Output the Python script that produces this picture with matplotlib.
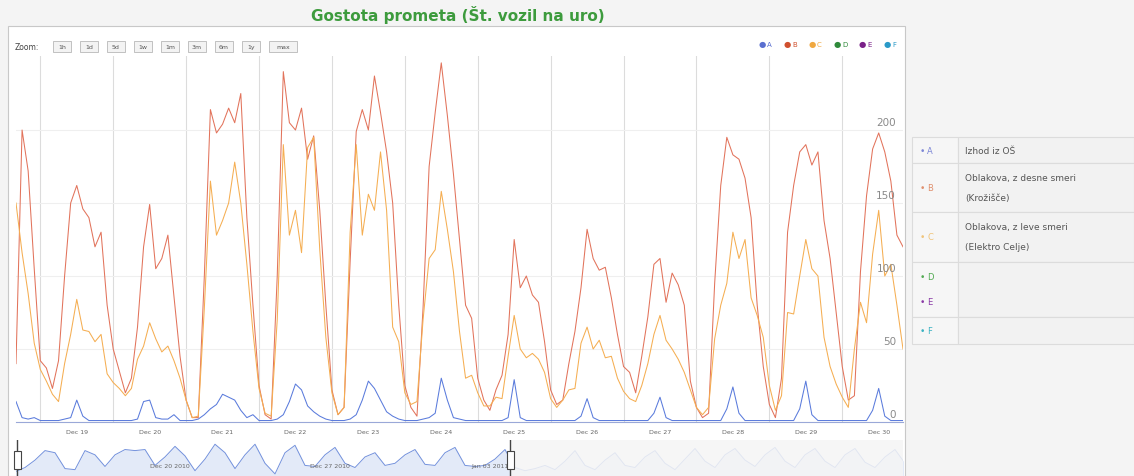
import matplotlib
matplotlib.use("Agg")
import pandas as pd
import matplotlib.pyplot as plt
import matplotlib.dates as mdates
from matplotlib.ticker import NullFormatter
from matplotlib.patches import Rectangle

# hourly counts, sampled every 2 hours from 2010-12-18 16:00
start = "2010-12-18 16:00"

izhod_os = [
    14, 3, 2, 3, 1, 1, 1, 1, 2, 3,
    15, 4, 1, 1, 1, 1, 1, 1, 1, 1,
    2, 14, 15, 3, 2, 2, 5, 1, 1, 1,
    2, 5, 9, 12, 19, 17, 15, 8, 3, 5,
    1, 1, 1, 2, 5, 14, 26, 22, 11, 7,
    4, 2, 1, 1, 1, 2, 5, 15, 28, 23,
    15, 7, 4, 2, 1, 1, 1, 2, 3, 6,
    30, 15, 3, 2, 1, 1, 1, 1, 1, 1,
    1, 3, 29, 3, 1, 1, 1, 1, 1, 1,
    1, 1, 1, 4, 16, 3, 1, 1, 1, 1,
    1, 1, 1, 1, 1, 6, 17, 3, 1, 1,
    1, 1, 1, 1, 1, 1, 1, 9, 24, 6,
    1, 1, 1, 1, 1, 1, 1, 1, 1, 9,
    28, 5, 1, 1, 1, 1, 1, 1, 1, 1,
    1, 8, 23, 4, 1, 1, 1,
]

z_desne = [
    40, 200, 172, 105, 42, 37, 23, 42, 100, 150,
    162, 146, 140, 120, 130, 80, 50, 35, 20, 30,
    65, 120, 149, 105, 112, 128, 86, 45, 15, 3,
    3, 100, 214, 198, 204, 215, 205, 225, 140, 80,
    25, 5, 2, 100, 240, 205, 200, 215, 180, 196,
    145, 80, 22, 5, 10, 110, 199, 214, 200, 237,
    212, 185, 150, 80, 25, 10, 4, 78, 175, 212,
    246, 210, 170, 125, 80, 71, 30, 15, 8, 22,
    32, 60, 125, 92, 100, 87, 82, 55, 22, 12,
    15, 40, 62, 92, 132, 112, 104, 106, 85, 60,
    38, 34, 20, 45, 72, 108, 112, 82, 102, 94,
    80, 28, 10, 3, 6, 95, 162, 195, 183, 180,
    167, 140, 80, 38, 12, 3, 30, 130, 162, 185,
    190, 176, 185, 138, 112, 75, 38, 15, 18, 103,
    155, 187, 198, 185, 165, 128, 120,
]

z_leve = [
    150, 116, 88, 54, 36, 28, 19, 14, 40, 60,
    84, 63, 62, 55, 60, 33, 27, 23, 18, 23,
    43, 52, 68, 57, 48, 52, 42, 30, 15, 3,
    4, 78, 165, 128, 138, 150, 178, 150, 108, 62,
    23, 6, 4, 70, 190, 128, 145, 116, 188, 195,
    118, 58, 20, 5, 10, 130, 190, 128, 156, 145,
    185, 145, 65, 55, 20, 12, 14, 70, 112, 118,
    158, 132, 103, 62, 30, 32, 20, 11, 11, 17,
    16, 45, 73, 50, 44, 47, 43, 34, 16, 10,
    15, 22, 23, 54, 65, 50, 56, 44, 45, 30,
    21, 16, 14, 25, 40, 60, 73, 56, 50, 43,
    34, 22, 10, 5, 10, 57, 80, 95, 130, 112,
    125, 85, 73, 58, 25, 8, 18, 75, 74, 100,
    125, 105, 100, 58, 38, 26, 17, 10, 50, 82,
    68, 115, 145, 100, 108, 80, 50,
]

# range selector overview (rough shape)
overview = [
    4, 8, 15, 24, 22, 7, 6, 24, 20, 9,
    20, 25, 24, 25, 10, 18, 28, 19, 5, 16,
    30, 22, 7, 20, 30, 12, 2, 22, 29, 10,
    9, 20, 27, 12, 8, 18, 22, 10, 12, 20,
    25, 11, 10, 22, 27, 10, 9, 10, 16, 25,
    8, 5, 7, 10, 6, 14, 24, 10, 6, 15,
    22, 10, 8, 18, 24, 12, 6, 16, 26, 14,
    8, 20, 26, 15, 9, 20, 27, 14, 8, 20,
    26, 14, 8, 20, 26, 13, 8, 18, 25, 12,
]
overview_labels = ["Dec 20 2010", "Dec 27 2010", "Jan 03 2011"]
overview_label_pos = [15.5, 31.5, 47.5]

y_ticks = [0, 50, 100, 150, 200]
zoom_buttons = ["1h", "1d", "5d", "1w", "1m", "3m", "6m", "1y", "max"]
series_names = ["A", "B", "C", "D", "E", "F"]
legend_colors = ["#5a6fd0", "#d0502e", "#f0a840", "#2f8a3a", "#7a2088", "#2a9ac8"]
table_colors = ["#7c86d6", "#e0906e", "#f0c47a", "#52aa52", "#8a3aa6", "#3ab2c2"]
table_rows = [
    (["A"], ["Izhod iz OŠ"]),
    (["B"], ["Oblakova, z desne smeri", "(Krožišče)"]),
    (["C"], ["Oblakova, z leve smeri", "(Elektro Celje)"]),
    (["D", "E"], []),
    (["F"], []),
]

W, H = 1134, 477
fig = plt.figure(figsize=(W / 100, H / 100), dpi=100, facecolor="#f4f4f4")


def fx(x):
    return x / W


def fy(y):
    return 1 - y / H


# white chart frame
fig.patches.append(Rectangle((fx(8), 0), fx(905) - fx(8), fy(27), transform=fig.transFigure,
                             facecolor="white", edgecolor="#c8c8c8", lw=0.8, zorder=-5))

fig.text(fx(458), fy(15), "Gostota prometa (Št. vozil na uro)", ha="center", va="center",
         fontsize=11, fontweight="bold", color="#3d9b3d")

# main plot
times = pd.date_range(start, periods=len(z_desne), freq="2h")
ax = fig.add_axes([fx(16), fy(423), fx(903) - fx(16), fy(57) - fy(423)])
ax.set_facecolor("none")
ax.plot(times, z_desne, color="#e2735b", lw=0.75)
ax.plot(times, z_leve, color="#f5ae52", lw=0.75)
ax.plot(times, izhod_os, color="#5a7bdc", lw=0.75)
ax.set_xlim(times[0], times[-1])
ax.set_ylim(0, 250.7)

ax.xaxis.set_major_locator(mdates.DayLocator())
ax.xaxis.set_major_formatter(NullFormatter())
ax.xaxis.set_minor_locator(mdates.HourLocator(byhour=[12]))
ax.xaxis.set_minor_formatter(mdates.DateFormatter("%b %d"))
ax.tick_params(axis="x", which="both", length=0)
ax.tick_params(axis="x", which="minor", labelsize=4.5, labelcolor="#666666", pad=5)
ax.grid(True, which="major", axis="x", color="#dcdcdc", lw=0.8)
ax.set_yticks(y_ticks)
ax.tick_params(axis="y", length=0, labelleft=False)
ax.grid(True, axis="y", color="#efefef", lw=0.8)
ax.set_axisbelow(True)
for s in ["top", "left", "right"]:
    ax.spines[s].set_visible(False)
ax.spines["bottom"].set_color("#9aa8d8")
for v in y_ticks:
    ax.annotate(str(v), xy=(1, v), xycoords=ax.get_yaxis_transform(), xytext=(-5, 2),
                textcoords="offset points", ha="right", va="bottom", fontsize=7.5, color="#8a8a8a")

# zoom buttons
fig.text(fx(15), fy(47), "Zoom:", fontsize=5.5, va="center", color="#444444")
bx = 53
for lab in zoom_buttons:
    w = 28 if lab == "max" else 18
    fig.patches.append(Rectangle((fx(bx), fy(53)), fx(w), 11 / H, transform=fig.transFigure,
                                 facecolor="#f3f3f3", edgecolor="#b8b8b8", lw=0.6))
    fig.text(fx(bx + w / 2), fy(47.5), lab, fontsize=4.5, ha="center", va="center", color="#555555")
    bx += w + 9

# legend in the chart corner
lx = 762
for name, col in zip(series_names, legend_colors):
    fig.text(fx(lx), fy(45), "●", fontsize=6, ha="center", va="center", color=col)
    fig.text(fx(lx + 5), fy(45), name, fontsize=5, ha="left", va="center", color=col)
    lx += 25

# range selector
ov_ax = fig.add_axes([fx(16), 0, fx(903) - fx(16), fy(441)])
ov_ax.set_facecolor("none")
k = list(range(len(overview)))
ov_ax.fill_between(k, overview, color="#e3eaf8", lw=0)
ov_ax.plot(k, overview, color="#7391dc", lw=0.7)
ov_ax.set_xlim(0.1, 88.8)
ov_ax.set_ylim(0, 34)
ov_ax.axvspan(49.5, 88.8, color="#f5f5f5", alpha=0.85, lw=0, zorder=3)
for lab, p in zip(overview_labels, overview_label_pos):
    ov_ax.text(p, 0.28, lab, transform=ov_ax.get_xaxis_transform(), fontsize=4.5,
               ha="center", va="center", color="#666666", zorder=4)
for hx in [0.2, 49.5]:
    ov_ax.axvline(hx, color="#444444", lw=1.0, zorder=5)
    ov_ax.add_patch(Rectangle((hx - 0.35, 0.2), 0.7, 0.5, transform=ov_ax.get_xaxis_transform(),
                              facecolor="white", edgecolor="#444444", lw=0.8, zorder=6, clip_on=False))
ov_ax.axis("off")

# table with series descriptions
tl, ts, tr = 912, 958, 1134
row_edges = [138, 164, 213, 263, 318, 345]
for r, (marks, lines) in enumerate(table_rows):
    y0, y1 = row_edges[r], row_edges[r + 1]
    fig.patches.append(Rectangle((fx(tl), fy(y1)), fx(ts - tl), (y1 - y0) / H,
                                 transform=fig.transFigure, facecolor="#f6f6f6",
                                 edgecolor="#dcdcdc", lw=0.8))
    fig.patches.append(Rectangle((fx(ts), fy(y1)), fx(tr - ts), (y1 - y0) / H,
                                 transform=fig.transFigure, facecolor="#f2f2f2",
                                 edgecolor="#dcdcdc", lw=0.8))
    n = len(marks)
    for j, m in enumerate(marks):
        ym = (y0 + y1) / 2 if n == 1 else y0 + (y1 - y0) * (j + 0.6) / (n + 0.2)
        col = table_colors[series_names.index(m)]
        fig.text(fx(922), fy(ym), "•", fontsize=6.5, ha="center", va="center", color=col)
        fig.text(fx(927), fy(ym), m, fontsize=6, ha="left", va="center", color=col)
    nl = len(lines)
    for j, t in enumerate(lines):
        yt = (y0 + y1) / 2 if nl == 1 else y0 + (y1 - y0) * (j + 0.75) / (nl + 0.5)
        fig.text(fx(965), fy(yt), t, fontsize=6.5, ha="left", va="center", color="#555555")

fig.savefig("out.png", dpi=100, facecolor=fig.get_facecolor())
